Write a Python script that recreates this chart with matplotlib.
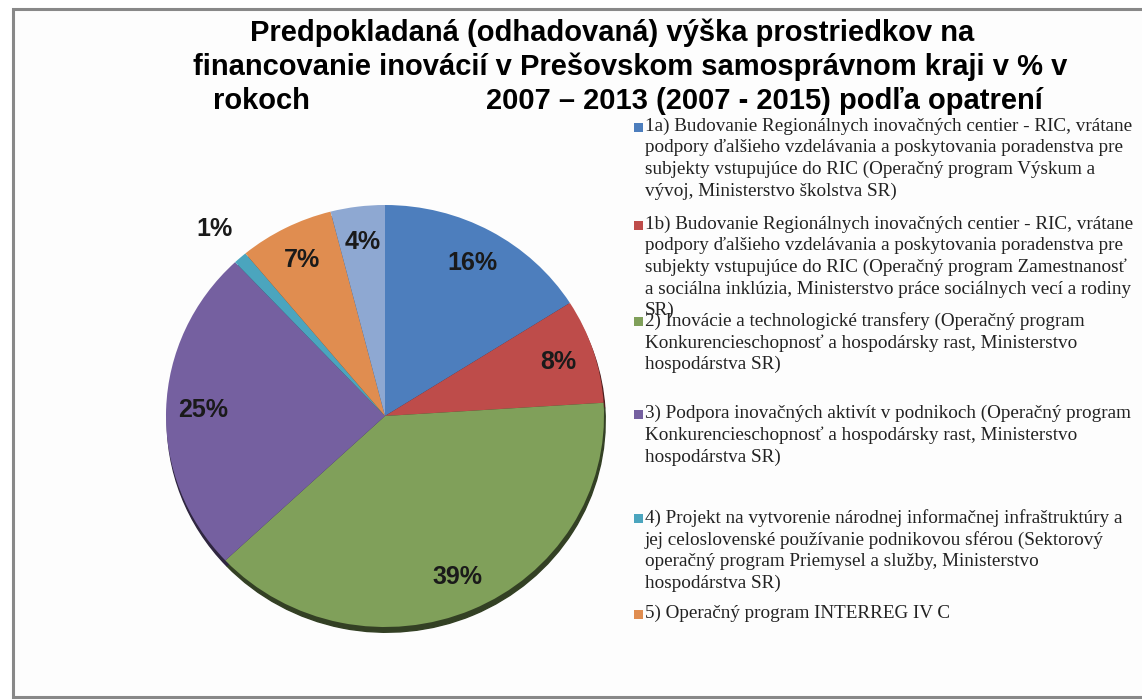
import matplotlib.pyplot as plt
from matplotlib.patches import Rectangle
import numpy as np

# data
shares = [16, 8, 39, 25, 1, 7, 4]
colors = ['#4D7EBD', '#BE4C4A', '#80A05A', '#7560A0', '#4BA5BE', '#E08D50', '#8EA8D2']
legend_labels = [
    "1a) Budovanie Regionálnych inovačných centier - RIC, vrátane\n"
    "podpory ďalšieho vzdelávania a poskytovania poradenstva pre\n"
    "subjekty vstupujúce do RIC (Operačný program Výskum a\n"
    "vývoj, Ministerstvo školstva SR)",
    "1b) Budovanie Regionálnych inovačných centier - RIC, vrátane\n"
    "podpory ďalšieho vzdelávania a poskytovania poradenstva pre\n"
    "subjekty vstupujúce do RIC (Operačný program Zamestnanosť\n"
    "a sociálna inklúzia, Ministerstvo práce sociálnych vecí a rodiny\n"
    "SR)",
    "2) Inovácie a technologické transfery (Operačný program\n"
    "Konkurencieschopnosť a hospodársky rast, Ministerstvo\n"
    "hospodárstva SR)",
    "3) Podpora inovačných aktivít v podnikoch (Operačný program\n"
    "Konkurencieschopnosť a hospodársky rast, Ministerstvo\n"
    "hospodárstva SR)",
    "4) Projekt na vytvorenie národnej informačnej infraštruktúry a\n"
    "jej celoslovenské používanie podnikovou sférou (Sektorový\n"
    "operačný program Priemysel a služby, Ministerstvo\n"
    "hospodárstva SR)",
    "5) Operačný program INTERREG IV C",
]
title_lines = ["Predpokladaná (odhadovaná) výška prostriedkov na",
               "financovanie inovácií v Prešovskom samosprávnom kraji v % v"]
title_left = "rokoch"
title_right = "2007 – 2013 (2007 - 2015) podľa opatrení"

W, H = 1142, 700
fig = plt.figure(figsize=(W / 100, H / 100), dpi=100)
fig.patch.set_facecolor('white')

def fx(px):
    return px / W

def fy(py):
    return 1 - py / H

# frame around the chart
fig.add_artist(Rectangle((fx(13), fy(697)), fx(1142) - fx(13) + 0.01, fy(9) - fy(697),
                         transform=fig.transFigure, facecolor='#FDFDFD',
                         edgecolor='#888888', lw=2.2, zorder=0))

# pie axes (slightly elliptical like the screenshot)
cx, cy, rx, ry = 385, 416, 219, 211
ax = fig.add_axes([fx(cx - 1.1 * rx), fy(cy + 1.1 * ry), 2.2 * rx / W, 2.2 * ry / H])
wedges, texts, autotexts = ax.pie(
    shares, colors=colors, startangle=90, counterclock=False,
    autopct='%.0f%%', pctdistance=0.83,
    shadow={'ox': 0.004, 'oy': -0.018, 'shade': 0.6, 'alpha': 1.0},
    textprops=dict(family='Liberation Sans', fontweight='bold', fontsize=18, color='#1a1a1a'))
ax.set_aspect('auto')
ax.set_xlim(-1.1, 1.1)
ax.set_ylim(-1.1, 1.1)

# small slice label goes outside
for w, t, v in zip(wedges, autotexts, shares):
    if v < 2:
        a = np.deg2rad((w.theta1 + w.theta2) / 2)
        t.set_position((1.18 * np.cos(a), 1.18 * np.sin(a)))

# title
tkw = dict(family='Liberation Sans', fontweight='bold', fontsize=21, va='center')
fig.text(fx(612), fy(33), title_lines[0], ha='center', **tkw)
fig.text(fx(193), fy(67), title_lines[1], ha='left', **tkw)
fig.text(fx(213), fy(101), title_left, ha='left', **tkw)
fig.text(fx(1043), fy(101), title_right, ha='right', **tkw)

# legend (manual, to keep the wrapped layout)
entry_y = [127, 225, 321, 414, 518, 614]
for lab, col, y in zip(legend_labels, colors, entry_y):
    fig.add_artist(Rectangle((fx(634), fy(y + 5)), fx(9), 9 / H,
                             transform=fig.transFigure, facecolor=col, edgecolor='none'))
    fig.text(fx(645), fy(y - 9), lab, ha='left', va='top',
             family='Liberation Serif', fontsize=13.8, linespacing=1.32, color='#222222')

fig.savefig('out.png', dpi=100)
